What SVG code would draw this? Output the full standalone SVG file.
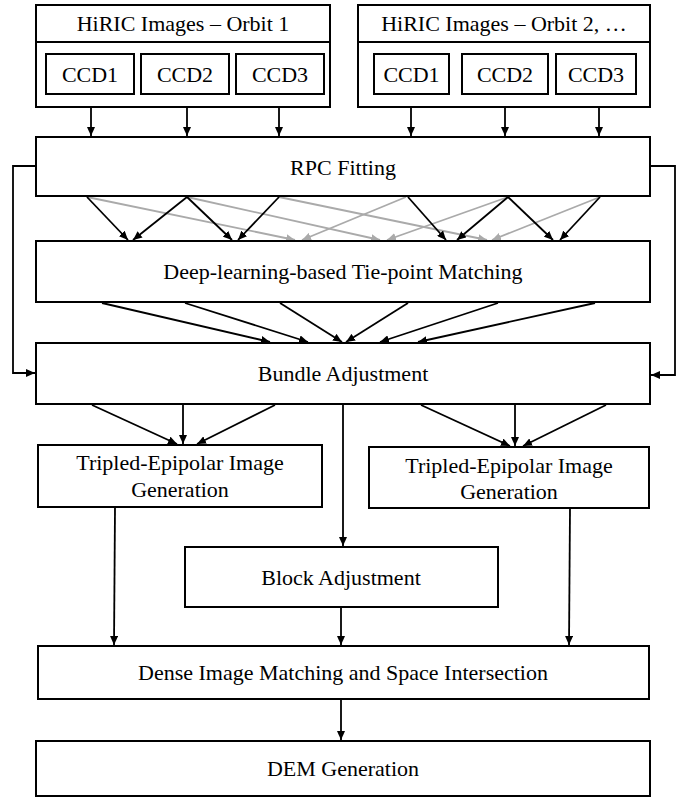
<svg xmlns="http://www.w3.org/2000/svg" width="686" height="798" viewBox="0 0 686 798">
<style>
.box{fill:#fff;stroke:#000;stroke-width:2}
text{font-family:'Liberation Serif',Tinos,'Times New Roman',Times,'Nimbus Roman','DejaVu Serif',serif;font-size:22px;fill:#000;text-anchor:middle}
.c{fill:none;stroke:#000;stroke-width:1.8}
.g{fill:none;stroke:#aaa;stroke-width:1.8}
</style>
<defs>
<marker id="ab" markerUnits="userSpaceOnUse" markerWidth="9" markerHeight="8" refX="9" refY="4" orient="auto"><path d="M0,0 L9,4 L0,8 z" fill="#000"/></marker>
<marker id="ag" markerUnits="userSpaceOnUse" markerWidth="9" markerHeight="8" refX="9" refY="4" orient="auto"><path d="M0,0 L9,4 L0,8 z" fill="#aaa"/></marker>
</defs>
<rect width="686" height="798" fill="#fff"/>
<g id="connectors">
<g class="c" marker-end="url(#ab)">
<line x1="91" y1="94" x2="91" y2="136"/>
<line x1="187" y1="94" x2="187" y2="136"/>
<line x1="279" y1="94" x2="279" y2="136"/>
<line x1="411" y1="94" x2="411" y2="136"/>
<line x1="505" y1="94" x2="505" y2="136"/>
<line x1="599" y1="94" x2="599" y2="136"/>
<polyline points="36,166 13,166 13,373 35,373"/>
<polyline points="650,166 675,166 675,375 651,375"/>
</g>
<g class="g" marker-end="url(#ag)">
<line x1="87" y1="197" x2="295" y2="240"/>
<line x1="187" y1="197" x2="380" y2="240"/>
<line x1="279" y1="197" x2="487" y2="240"/>
<line x1="406" y1="197" x2="302" y2="240"/>
<line x1="508" y1="197" x2="387" y2="240"/>
<line x1="600" y1="197" x2="492" y2="240"/>
</g>
<g class="c" marker-end="url(#ab)">
<line x1="87" y1="197" x2="128" y2="240"/>
<line x1="187" y1="197" x2="133" y2="240"/>
<line x1="187" y1="197" x2="232" y2="240"/>
<line x1="279" y1="197" x2="238" y2="240"/>
<line x1="408" y1="197" x2="446" y2="240"/>
<line x1="508" y1="197" x2="457" y2="240"/>
<line x1="508" y1="197" x2="553" y2="240"/>
<line x1="600" y1="197" x2="560" y2="240"/>
<line x1="102" y1="303" x2="270" y2="342"/>
<line x1="185" y1="303" x2="308" y2="342"/>
<line x1="280" y1="303" x2="342" y2="342"/>
<line x1="408" y1="303" x2="346" y2="342"/>
<line x1="498" y1="303" x2="380" y2="342"/>
<line x1="595" y1="303" x2="418" y2="342"/>
<line x1="92" y1="405" x2="177" y2="444"/>
<line x1="183" y1="405" x2="183" y2="444"/>
<line x1="275" y1="405" x2="197" y2="444"/>
<line x1="421" y1="405" x2="510" y2="446"/>
<line x1="515" y1="405" x2="515" y2="446"/>
<line x1="606" y1="405" x2="523" y2="446"/>
<line x1="343" y1="405" x2="343" y2="546"/>
<line x1="115" y1="508" x2="114" y2="645"/>
<line x1="341" y1="608" x2="341" y2="645"/>
<line x1="570" y1="509" x2="569" y2="645"/>
<line x1="341" y1="700" x2="341" y2="740"/>
</g>
</g>
<g id="orbit1">
<rect class="box" x="36" y="5" width="294" height="102"/>
<line x1="36" y1="42" x2="330" y2="42" stroke="#000" stroke-width="2"/>
<text x="183" y="31">HiRIC Images – Orbit 1</text>
</g>
<g id="o1ccd1"><rect class="box" x="46" y="54" width="88" height="40"/><text x="90" y="82">CCD1</text></g>
<g id="o1ccd2"><rect class="box" x="141" y="54" width="88" height="40"/><text x="185" y="82">CCD2</text></g>
<g id="o1ccd3"><rect class="box" x="236" y="54" width="88" height="40"/><text x="280" y="82">CCD3</text></g>
<g id="orbit2">
<rect class="box" x="358" y="5" width="292" height="102"/>
<line x1="358" y1="42" x2="650" y2="42" stroke="#000" stroke-width="2"/>
<text x="504" y="31">HiRIC Images – Orbit 2, …</text>
</g>
<g id="o2ccd1"><rect class="box" x="374" y="54" width="75" height="40"/><text x="411.5" y="82">CCD1</text></g>
<g id="o2ccd2"><rect class="box" x="462" y="54" width="86" height="40"/><text x="505" y="82">CCD2</text></g>
<g id="o2ccd3"><rect class="box" x="556" y="54" width="80" height="40"/><text x="596" y="82">CCD3</text></g>
<g id="rpc"><rect class="box" x="36" y="137" width="614" height="59"/><text x="343" y="175">RPC Fitting</text></g>
<g id="tiepoint"><rect class="box" x="36" y="241" width="614" height="61"/><text x="343" y="279">Deep-learning-based Tie-point Matching</text></g>
<g id="bundle"><rect class="box" x="36" y="343" width="614" height="61"/><text x="343" y="381">Bundle Adjustment</text></g>
<g id="tripledL"><rect class="box" x="38" y="445" width="284" height="62"/><text x="180" y="470">Tripled-Epipolar Image</text><text x="180" y="497">Generation</text></g>
<g id="tripledR"><rect class="box" x="369" y="447" width="280" height="61"/><text x="509" y="473">Tripled-Epipolar Image</text><text x="509" y="499">Generation</text></g>
<g id="block"><rect class="box" x="185" y="547" width="313" height="60"/><text x="341" y="585">Block Adjustment</text></g>
<g id="dense"><rect class="box" x="38" y="646" width="611" height="53"/><text x="343" y="680">Dense Image Matching and Space Intersection</text></g>
<g id="dem"><rect class="box" x="36" y="741" width="614" height="55"/><text x="343" y="776">DEM Generation</text></g>
</svg>
